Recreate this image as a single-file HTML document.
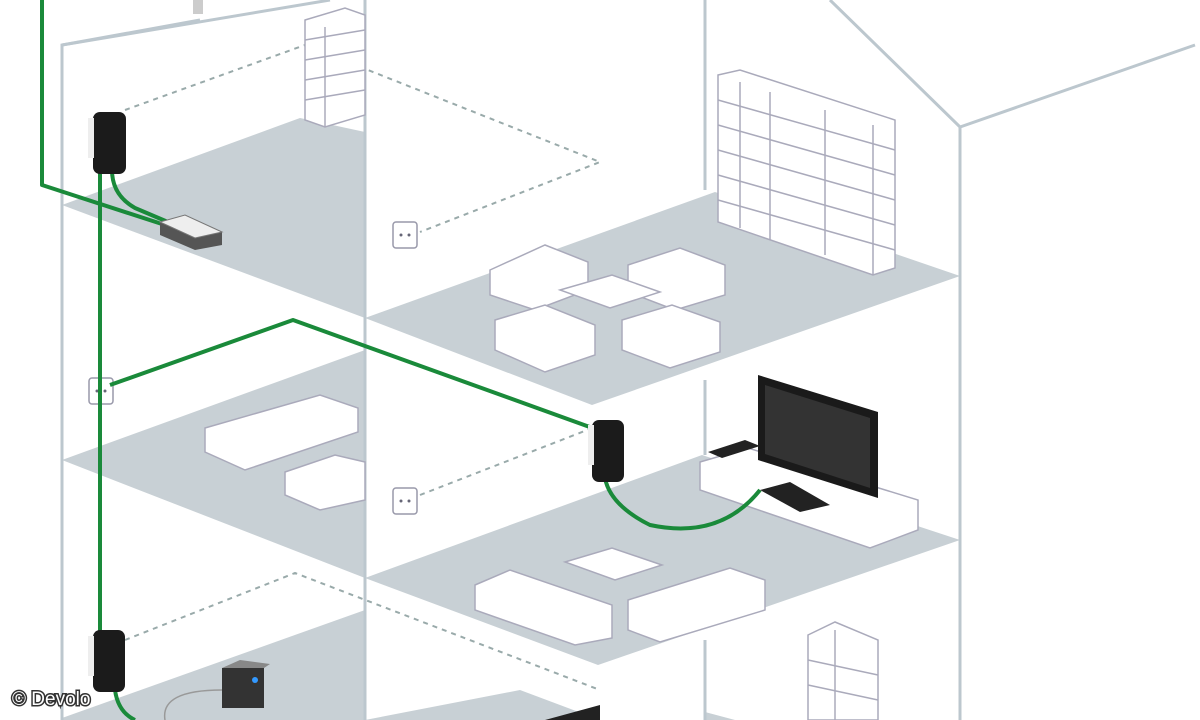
<!DOCTYPE html>
<html><head><meta charset="utf-8"><style>
html,body{margin:0;padding:0;background:#fff;width:1200px;height:720px;overflow:hidden}
svg{display:block}
.t{font-family:"Liberation Sans",sans-serif;font-size:19px;fill:#fff;stroke:#333;stroke-width:3px;paint-order:stroke}
</style></head><body>
<svg width="1200" height="720" viewBox="0 0 1200 720" xmlns="http://www.w3.org/2000/svg">
<rect width="1200" height="720" fill="#fff"/>
<!-- floors -->
<g fill="#c8d0d5">
<polygon points="62,205 300,118 365,132 365,318 62,205"/>
<polygon points="365,318 715,192 960,276 592,405"/>
<polygon points="62,460 365,350 365,578"/>
<polygon points="365,578 702,455 960,540 598,665"/>
<polygon points="62,718 365,610 365,720 62,720"/>
<polygon points="365,720 520,690 600,720"/>
<polygon points="705,712 735,720 705,720"/>
</g>
<!-- structure lines -->
<g stroke="#bcc7ce" stroke-width="3" fill="none">
<polyline points="62,720 62,45 330,0"/>
<line x1="62" y1="45" x2="200" y2="20"/>
<line x1="365" y1="0" x2="365" y2="720"/>
<line x1="705" y1="0" x2="705" y2="190"/>
<line x1="705" y1="380" x2="705" y2="455"/>
<line x1="705" y1="640" x2="705" y2="720"/>
<polyline points="830,0 960,127 1195,45"/>
<line x1="960" y1="127" x2="960" y2="720"/>
</g>
<!-- dashed -->
<g stroke="#9aa" stroke-width="2" stroke-dasharray="5,5" fill="none">
<polyline points="125,110 305,45 600,162 420,232"/>
<polyline points="420,495 600,425"/>
<polyline points="125,640 295,573 600,690"/>
</g>
<!-- shelves top-left -->
<g fill="#fff" stroke="#aab" stroke-width="1.5">
<polygon points="305,20 345,8 365,15 365,115 325,127 305,120"/>
<line x1="325" y1="27" x2="325" y2="127"/>
<line x1="305" y1="40" x2="365" y2="30"/><line x1="305" y1="60" x2="365" y2="50"/><line x1="305" y1="80" x2="365" y2="70"/><line x1="305" y1="100" x2="365" y2="90"/>
<!-- shelves right -->
<polygon points="718,75 740,70 895,120 895,268 873,275 718,222"/>
<line x1="740" y1="82" x2="740" y2="228"/><line x1="770" y1="92" x2="770" y2="240"/><line x1="825" y1="110" x2="825" y2="255"/><line x1="873" y1="125" x2="873" y2="275"/>
<line x1="718" y1="100" x2="895" y2="150"/><line x1="718" y1="125" x2="895" y2="175"/><line x1="718" y1="150" x2="895" y2="200"/><line x1="718" y1="175" x2="895" y2="225"/><line x1="718" y1="200" x2="895" y2="250"/>
<!-- living room sofas upper -->
<polygon points="490,270 545,245 588,262 588,290 535,310 490,295"/>
<polygon points="628,265 680,248 725,265 725,295 675,310 628,292"/>
<polygon points="495,320 545,305 595,325 595,355 545,372 495,350"/>
<polygon points="622,320 672,305 720,322 720,352 670,368 622,350"/>
<polygon points="560,290 612,275 660,292 610,308"/>
<!-- middle floor left furniture -->
<polygon points="205,428 320,395 358,408 358,432 245,470 205,452"/>
<polygon points="285,472 335,455 365,462 365,500 320,510 285,495"/>
<!-- TV stand -->
<polygon points="700,462 748,448 918,500 918,530 870,548 700,490"/>
<!-- lower sofas -->
<polygon points="475,585 510,570 612,605 612,638 575,645 475,610"/>
<polygon points="628,600 730,568 765,580 765,610 660,642 628,630"/>
<polygon points="565,562 612,548 662,565 615,580"/>
<!-- bottom right shelf -->
<polygon points="808,635 835,622 878,640 878,720 808,720"/>
<line x1="808" y1="660" x2="878" y2="675"/><line x1="808" y1="685" x2="878" y2="700"/><line x1="835" y1="630" x2="835" y2="720"/>
</g>
<!-- lamp -->
<rect x="193" y="0" width="10" height="14" fill="#ccc"/>
<!-- sockets -->
<g fill="#fff" stroke="#99a" stroke-width="1.5">
<rect x="393" y="222" width="24" height="26" rx="3"/>
<rect x="89" y="378" width="24" height="26" rx="3"/>
<rect x="393" y="488" width="24" height="26" rx="3"/>
</g>
<g fill="#667"><circle cx="401" cy="235" r="1.5"/><circle cx="409" cy="235" r="1.5"/><circle cx="97" cy="391" r="1.5"/><circle cx="105" cy="391" r="1.5"/><circle cx="401" cy="501" r="1.5"/><circle cx="409" cy="501" r="1.5"/></g>
<!-- green cables -->
<g stroke="#1a8a3a" stroke-width="4" fill="none" stroke-linejoin="round">
<polyline points="42,0 42,185 165,225"/>
<path d="M112,170 Q112,195 135,208 L175,225"/>
<polyline points="100,172 100,660"/>
<polyline points="110,385 293,320 598,430"/>
<path d="M605,478 Q610,505 650,525 Q720,540 760,490"/>
<path d="M115,690 Q118,712 135,720"/>
</g>
<!-- router -->
<polygon points="160,222 185,215 222,232 222,245 195,250 160,235" fill="#555"/>
<polygon points="160,222 185,215 222,232 195,238" fill="#eee" stroke="#777"/>
<!-- adapters -->
<g fill="#1b1b1b">
<rect x="93" y="112" width="33" height="62" rx="7"/>
<rect x="592" y="420" width="32" height="62" rx="7"/>
<rect x="93" y="630" width="32" height="62" rx="7"/>
</g>
<g fill="#eee"><rect x="88" y="118" width="6" height="40"/><rect x="588" y="425" width="6" height="40"/><rect x="88" y="636" width="6" height="40"/></g>
<!-- TV -->
<polygon points="758,375 878,412 878,498 758,460" fill="#1a1a1a"/>
<polygon points="765,385 870,418 870,488 765,454" fill="#333"/>
<polygon points="760,490 790,482 830,505 800,512" fill="#222"/>
<polygon points="708,452 745,440 760,446 722,458" fill="#222"/>
<!-- NAS -->
<rect x="222" y="668" width="42" height="40" fill="#333"/>
<polygon points="222,668 240,660 270,664 264,668" fill="#888"/>
<circle cx="255" cy="680" r="3" fill="#39f"/>
<path d="M165,720 Q160,690 222,690" stroke="#999" stroke-width="1.5" fill="none"/>
<polygon points="545,720 600,705 600,720" fill="#222"/>
<text class="t" x="12" y="705">© Devolo</text>
</svg>
</body></html>
